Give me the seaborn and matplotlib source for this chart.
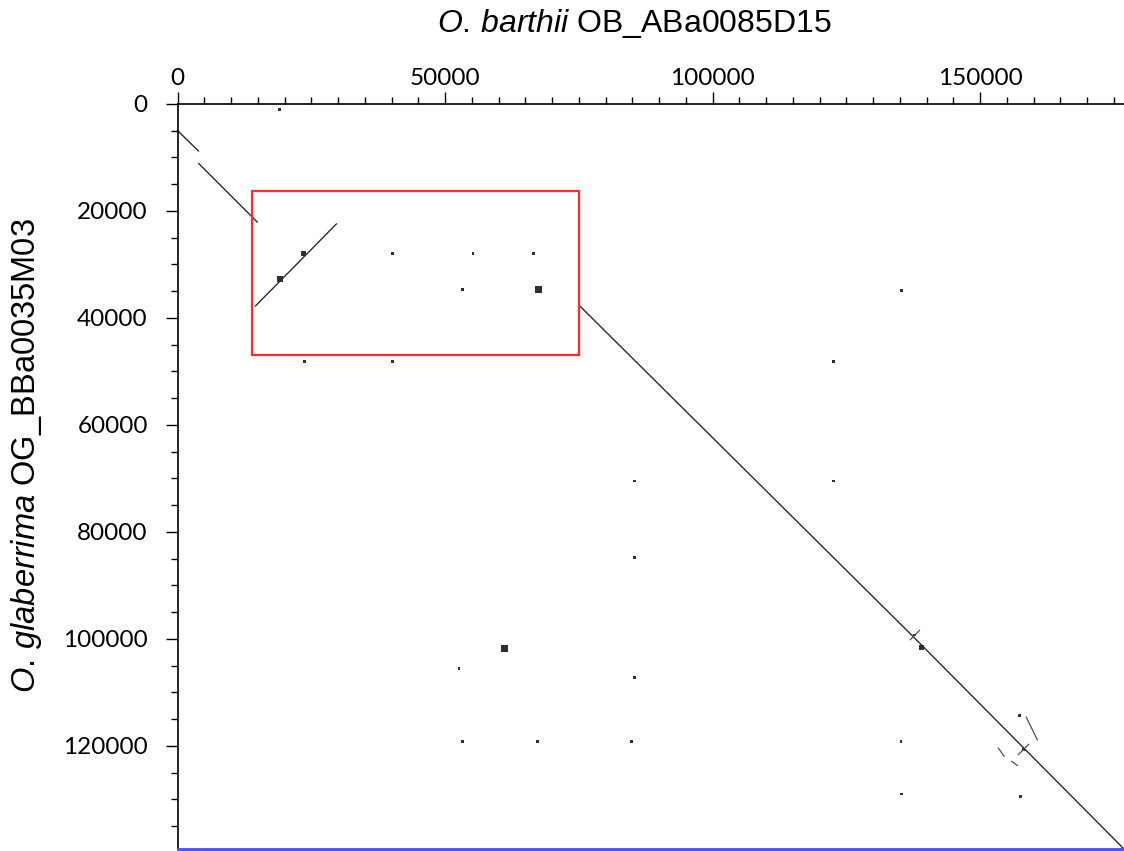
import matplotlib
matplotlib.use("Agg")
import matplotlib.pyplot as plt
import pandas as pd
import seaborn as sns
from matplotlib.patches import Rectangle
from matplotlib.ticker import MultipleLocator, FuncFormatter

sns.set_theme(style="white")
plt.rcParams["font.family"] = ["Lato", "DejaVu Sans"]
plt.rcParams["mathtext.fontset"] = "custom"
plt.rcParams["mathtext.it"] = "Liberation Sans:italic"
plt.rcParams["mathtext.rm"] = "Liberation Sans"

# Alignment paths (bp): O. barthii position (x) vs O. glaberrima position (y)
seg_id = ["a", "a", "b", "b", "inv", "inv", "main", "main", "main"]
seg_x = [0, 3900, 3900, 14900, 14500, 29700, 75100, 137500, 176900]
seg_y = [5000, 8800, 11100, 22100, 37800, 22400, 37700, 99600, 139300]

# Short local matches near the main diagonal (bp)
short_id = ["c1", "c1", "c2", "c2", "s1", "s1", "s2", "s2", "s3", "s3"]
short_x = [136900, 138700, 157100, 159100, 153400, 154500, 155900, 157000, 158600, 160700]
short_y = [100200, 98400, 121700, 119700, 120400, 122000, 122900, 123700, 114600, 118900]

# Isolated repeat hits (bp)
hit_x = [19100, 23700, 40100, 67400, 53200, 55200, 40100, 66500, 23600, 19100,
         61100, 52600, 53200, 67200, 84800, 85400, 122600, 122600, 85400, 85400,
         135300, 135200, 135300, 157500, 157300, 139100, 137800, 158100]
hit_y = [1100, 48200, 48200, 34700, 34700, 28000, 28000, 28000, 28000, 32700,
         101800, 105600, 119200, 119200, 119200, 107300, 48100, 70500, 70500, 84800,
         34900, 119200, 129000, 129500, 114400, 101700, 99300, 120700]
hit_w = [1, 1, 1, 3, 1, 1, 1, 1, 2, 3,
         3, 1, 1, 1, 1, 1, 1, 1, 1, 1,
         1, 1, 1, 1, 1, 2, 1, 1]

# Highlighted inversion region (bp)
box_x = [13830, 74970]
box_y = [16300, 47000]

x_max, y_max = 176900, 139300

W, H = 1124, 851
fig = plt.figure(figsize=(W / 100, H / 100), dpi=100)
left_px, top_px, bottom_px = 177.7, 104, 849
ax = fig.add_axes([left_px / W, 1 - bottom_px / H, (W - left_px) / W, (bottom_px - top_px) / H])
ax.set_facecolor("white")

paths = pd.DataFrame({"seg": seg_id, "x": seg_x, "y": seg_y})
sns.lineplot(data=paths, x="x", y="y", units="seg", estimator=None, sort=False,
             color="#2a2a2a", lw=1.0, legend=False, ax=ax)

shorts = pd.DataFrame({"seg": short_id, "x": short_x, "y": short_y})
sns.lineplot(data=shorts, x="x", y="y", units="seg", estimator=None, sort=False,
             color="#505050", lw=0.9, legend=False, ax=ax)

hits = pd.DataFrame({"x": hit_x, "y": hit_y, "w": hit_w})
sns.scatterplot(data=hits, x="x", y="y", size="w", sizes=(4, 22), marker="s",
                color="#303030", linewidth=0, legend=False, ax=ax)

ax.add_patch(Rectangle((box_x[0], box_y[0]), box_x[1] - box_x[0], box_y[1] - box_y[0],
                       fill=False, edgecolor="#ff2a2a", lw=1.6, zorder=5))

ax.set_xlim(0, x_max)
ax.set_ylim(y_max, 0)
ax.xaxis.tick_top()
ax.xaxis.set_major_locator(MultipleLocator(50000))
ax.xaxis.set_minor_locator(MultipleLocator(5000))
ax.yaxis.set_major_locator(MultipleLocator(20000))
ax.yaxis.set_minor_locator(MultipleLocator(5000))
fmt = FuncFormatter(lambda v, p: f"{int(round(v))}")
ax.xaxis.set_major_formatter(fmt)
ax.yaxis.set_major_formatter(fmt)
ax.tick_params(axis="both", which="major", direction="out", length=8.5, width=1.0,
               color="black", labelsize=17.5, labelcolor="black")
ax.tick_params(axis="both", which="minor", direction="out", length=4.8, width=1.0,
               color="black")
ax.tick_params(axis="x", which="both", top=True, bottom=False, pad=2.5)
ax.tick_params(axis="y", which="both", left=True, right=False, pad=13)
ax.set_xlabel("")
ax.set_ylabel("")

for side in ("top", "left"):
    ax.spines[side].set_color("black")
    ax.spines[side].set_linewidth(1.2)
ax.spines["right"].set_visible(False)
ax.spines["bottom"].set_color("#4b4bff")
ax.spines["bottom"].set_linewidth(2.0)

fig.text(634 / W, 1 - 31.7 / H, r"$\mathit{O.}\,\mathit{barthii}$ OB_ABa0085D15",
         ha="center", va="baseline", fontsize=23, color="black",
         family=["Liberation Sans"])
fig.text(27 / W, 1 - 456 / H, r"$\mathit{O.}\,\mathit{glaberrima}$ OG_BBa0035M03",
         ha="center", va="center", rotation=90, fontsize=23.5, color="black",
         family=["Liberation Sans"])

fig.savefig("out.png", dpi=100)
